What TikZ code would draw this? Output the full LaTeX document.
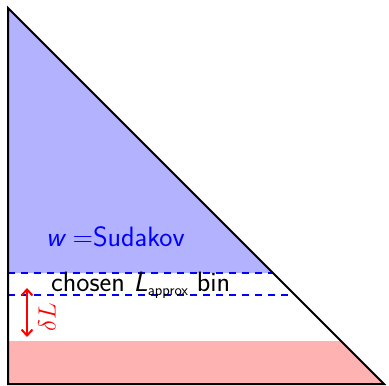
\documentclass[tikz,border=0pt]{standalone}
\usetikzlibrary{arrows.meta}
\begin{document}
\begin{tikzpicture}[x=1pt,y=-1pt,
  bigfont/.style={font=\sffamily\fontsize{28}{33}\selectfont},
  edge/.style={line width=2pt, line join=miter},
  binline/.style={blue, dashed, line width=1.8pt, dash pattern=on 6.5pt off 6.5pt},
  lbl/.style={bigfont, inner sep=0pt, anchor=base west}]
\useasboundingbox (0,0) rectangle (389,386);
\coordinate (T) at (8,8);
\coordinate (B) at (8,384);
\coordinate (R) at (384,384);
\coordinate (u1) at (8,273);
\coordinate (u2) at (273,273);
\coordinate (l1) at (8,295);
\coordinate (l2) at (288,295);
\coordinate (a1) at (27,288);
\coordinate (a2) at (27,337);
\fill[blue!30] (T) -- (u1) -- (u2) -- cycle;
\fill[red!30] (8,341) -- (341,341) -- (R) -- (B) -- cycle;
\draw[binline] (u1) -- (u2);
\draw[binline] (l1) -- (l2);
\draw[edge] (T) -- (B) -- (R) -- cycle;
\node[lbl, blue] (w) at (46,246) {{\itshape w}\hspace{0.3em}=Sudakov};
\node[lbl] (bin) at (51,291) {chosen {\itshape L}\raisebox{-4pt}{\fontsize{15.5}{18}\selectfont approx} bin};
\draw[red, line width=2pt, {Straight Barb[length=6pt,width=11pt]}-{Straight Barb[length=6pt,width=11pt]}] (a1) -- (a2);
\node[font=\fontsize{25}{30}\selectfont, red, rotate=90, inner sep=0pt] (dl) at (47,317) {$\delta L$};
\end{tikzpicture}
\end{document}
